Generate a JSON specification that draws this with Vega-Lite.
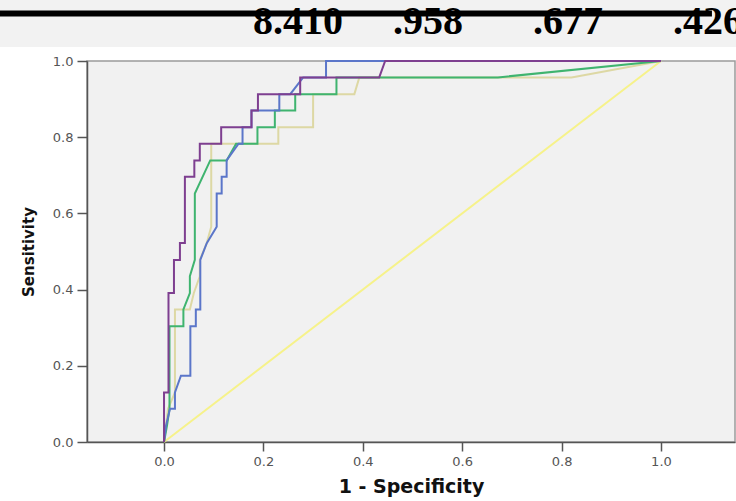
{
  "$schema": "https://vega.github.io/schema/vega-lite/v6.json",
  "width": 648,
  "height": 381,
  "autosize": {"type": "none"},
  "padding": {"left": 87, "top": 61, "right": 1, "bottom": 59},
  "background": "white",
  "title": {
    "text": "8.410\u00a0\u00a0\u00a0\u00a0\u00a0.958\u00a0\u00a0\u00a0\u00a0\u00a0\u00a0\u00a0.677\u00a0\u00a0\u00a0\u00a0\u00a0\u00a0\u00a0.426",
    "font": "Liberation Serif",
    "fontSize": 40,
    "fontWeight": "bold",
    "color": "#000000",
    "anchor": "start",
    "frame": "group",
    "baseline": "alphabetic",
    "offset": 0,
    "dx": 166,
    "dy": 74
  },
  "config": {
    "view": {"fill": "#f1f1f1", "stroke": "#9a9a9a", "strokeWidth": 1.5},
    "axis": {
      "grid": false,
      "labelFont": "DejaVu Sans",
      "labelFontSize": 13,
      "labelColor": "#555555",
      "tickColor": "#555555",
      "tickWidth": 1.5,
      "tickSize": 9,
      "domainColor": "#555555",
      "domainWidth": 1.5,
      "labelPadding": 4,
      "titleFont": "DejaVu Sans",
      "titleFontWeight": "bold",
      "titleColor": "#111111"
    }
  },
  "datasets": {
    "roc": [
      {"curve": "Ref", "i": 0, "fpr": 0, "tpr": 0},
      {"curve": "Ref", "i": 1, "fpr": 1, "tpr": 1},

      {"curve": "A", "i": 0, "fpr": 0, "tpr": 0},
      {"curve": "A", "i": 1, "fpr": 0.008, "tpr": 0.087},
      {"curve": "A", "i": 2, "fpr": 0.022, "tpr": 0.130},
      {"curve": "A", "i": 3, "fpr": 0.022, "tpr": 0.348},
      {"curve": "A", "i": 4, "fpr": 0.052, "tpr": 0.348},
      {"curve": "A", "i": 5, "fpr": 0.060, "tpr": 0.391},
      {"curve": "A", "i": 6, "fpr": 0.072, "tpr": 0.435},
      {"curve": "A", "i": 7, "fpr": 0.072, "tpr": 0.478},
      {"curve": "A", "i": 8, "fpr": 0.086, "tpr": 0.522},
      {"curve": "A", "i": 9, "fpr": 0.095, "tpr": 0.565},
      {"curve": "A", "i": 10, "fpr": 0.095, "tpr": 0.783},
      {"curve": "A", "i": 11, "fpr": 0.230, "tpr": 0.783},
      {"curve": "A", "i": 12, "fpr": 0.230, "tpr": 0.826},
      {"curve": "A", "i": 13, "fpr": 0.300, "tpr": 0.826},
      {"curve": "A", "i": 14, "fpr": 0.300, "tpr": 0.913},
      {"curve": "A", "i": 15, "fpr": 0.383, "tpr": 0.913},
      {"curve": "A", "i": 16, "fpr": 0.393, "tpr": 0.957},
      {"curve": "A", "i": 17, "fpr": 0.820, "tpr": 0.957},
      {"curve": "A", "i": 18, "fpr": 1, "tpr": 1},

      {"curve": "B", "i": 0, "fpr": 0, "tpr": 0},
      {"curve": "B", "i": 1, "fpr": 0.006, "tpr": 0.043},
      {"curve": "B", "i": 2, "fpr": 0.011, "tpr": 0.087},
      {"curve": "B", "i": 3, "fpr": 0.011, "tpr": 0.304},
      {"curve": "B", "i": 4, "fpr": 0.039, "tpr": 0.304},
      {"curve": "B", "i": 5, "fpr": 0.039, "tpr": 0.348},
      {"curve": "B", "i": 6, "fpr": 0.052, "tpr": 0.391},
      {"curve": "B", "i": 7, "fpr": 0.052, "tpr": 0.435},
      {"curve": "B", "i": 8, "fpr": 0.062, "tpr": 0.478},
      {"curve": "B", "i": 9, "fpr": 0.062, "tpr": 0.652},
      {"curve": "B", "i": 10, "fpr": 0.093, "tpr": 0.739},
      {"curve": "B", "i": 11, "fpr": 0.126, "tpr": 0.739},
      {"curve": "B", "i": 12, "fpr": 0.145, "tpr": 0.783},
      {"curve": "B", "i": 13, "fpr": 0.188, "tpr": 0.783},
      {"curve": "B", "i": 14, "fpr": 0.188, "tpr": 0.826},
      {"curve": "B", "i": 15, "fpr": 0.223, "tpr": 0.826},
      {"curve": "B", "i": 16, "fpr": 0.223, "tpr": 0.870},
      {"curve": "B", "i": 17, "fpr": 0.264, "tpr": 0.870},
      {"curve": "B", "i": 18, "fpr": 0.264, "tpr": 0.913},
      {"curve": "B", "i": 19, "fpr": 0.347, "tpr": 0.913},
      {"curve": "B", "i": 20, "fpr": 0.347, "tpr": 0.957},
      {"curve": "B", "i": 21, "fpr": 0.672, "tpr": 0.957},
      {"curve": "B", "i": 22, "fpr": 1, "tpr": 1},

      {"curve": "C", "i": 0, "fpr": 0, "tpr": 0},
      {"curve": "C", "i": 1, "fpr": 0.004, "tpr": 0.043},
      {"curve": "C", "i": 2, "fpr": 0.012, "tpr": 0.087},
      {"curve": "C", "i": 3, "fpr": 0.022, "tpr": 0.087},
      {"curve": "C", "i": 4, "fpr": 0.022, "tpr": 0.130},
      {"curve": "C", "i": 5, "fpr": 0.034, "tpr": 0.174},
      {"curve": "C", "i": 6, "fpr": 0.053, "tpr": 0.174},
      {"curve": "C", "i": 7, "fpr": 0.053, "tpr": 0.304},
      {"curve": "C", "i": 8, "fpr": 0.064, "tpr": 0.304},
      {"curve": "C", "i": 9, "fpr": 0.064, "tpr": 0.348},
      {"curve": "C", "i": 10, "fpr": 0.073, "tpr": 0.348},
      {"curve": "C", "i": 11, "fpr": 0.073, "tpr": 0.478},
      {"curve": "C", "i": 12, "fpr": 0.086, "tpr": 0.522},
      {"curve": "C", "i": 13, "fpr": 0.106, "tpr": 0.565},
      {"curve": "C", "i": 14, "fpr": 0.106, "tpr": 0.652},
      {"curve": "C", "i": 15, "fpr": 0.116, "tpr": 0.652},
      {"curve": "C", "i": 16, "fpr": 0.116, "tpr": 0.696},
      {"curve": "C", "i": 17, "fpr": 0.126, "tpr": 0.696},
      {"curve": "C", "i": 18, "fpr": 0.126, "tpr": 0.739},
      {"curve": "C", "i": 19, "fpr": 0.150, "tpr": 0.783},
      {"curve": "C", "i": 20, "fpr": 0.158, "tpr": 0.783},
      {"curve": "C", "i": 21, "fpr": 0.158, "tpr": 0.826},
      {"curve": "C", "i": 22, "fpr": 0.176, "tpr": 0.826},
      {"curve": "C", "i": 23, "fpr": 0.176, "tpr": 0.870},
      {"curve": "C", "i": 24, "fpr": 0.232, "tpr": 0.870},
      {"curve": "C", "i": 25, "fpr": 0.232, "tpr": 0.913},
      {"curve": "C", "i": 26, "fpr": 0.254, "tpr": 0.913},
      {"curve": "C", "i": 27, "fpr": 0.280, "tpr": 0.957},
      {"curve": "C", "i": 28, "fpr": 0.326, "tpr": 0.957},
      {"curve": "C", "i": 29, "fpr": 0.326, "tpr": 1},
      {"curve": "C", "i": 30, "fpr": 1, "tpr": 1},

      {"curve": "D", "i": 0, "fpr": 0, "tpr": 0},
      {"curve": "D", "i": 1, "fpr": 0, "tpr": 0.130},
      {"curve": "D", "i": 2, "fpr": 0.009, "tpr": 0.130},
      {"curve": "D", "i": 3, "fpr": 0.009, "tpr": 0.391},
      {"curve": "D", "i": 4, "fpr": 0.020, "tpr": 0.391},
      {"curve": "D", "i": 5, "fpr": 0.020, "tpr": 0.478},
      {"curve": "D", "i": 6, "fpr": 0.032, "tpr": 0.478},
      {"curve": "D", "i": 7, "fpr": 0.032, "tpr": 0.522},
      {"curve": "D", "i": 8, "fpr": 0.042, "tpr": 0.522},
      {"curve": "D", "i": 9, "fpr": 0.042, "tpr": 0.696},
      {"curve": "D", "i": 10, "fpr": 0.061, "tpr": 0.696},
      {"curve": "D", "i": 11, "fpr": 0.061, "tpr": 0.739},
      {"curve": "D", "i": 12, "fpr": 0.072, "tpr": 0.739},
      {"curve": "D", "i": 13, "fpr": 0.072, "tpr": 0.783},
      {"curve": "D", "i": 14, "fpr": 0.115, "tpr": 0.783},
      {"curve": "D", "i": 15, "fpr": 0.115, "tpr": 0.826},
      {"curve": "D", "i": 16, "fpr": 0.176, "tpr": 0.826},
      {"curve": "D", "i": 17, "fpr": 0.176, "tpr": 0.870},
      {"curve": "D", "i": 18, "fpr": 0.189, "tpr": 0.870},
      {"curve": "D", "i": 19, "fpr": 0.189, "tpr": 0.913},
      {"curve": "D", "i": 20, "fpr": 0.274, "tpr": 0.913},
      {"curve": "D", "i": 21, "fpr": 0.274, "tpr": 0.957},
      {"curve": "D", "i": 22, "fpr": 0.433, "tpr": 0.957},
      {"curve": "D", "i": 23, "fpr": 0.445, "tpr": 1},
      {"curve": "D", "i": 24, "fpr": 1, "tpr": 1}
    ]
  },
  "layer": [
    {
      "data": {"values": [{}]},
      "mark": {"type": "rect", "color": "#f2f2f2"},
      "encoding": {
        "x": {"datum": -0.4, "type": "quantitative", "scale": {"domain": [-0.155, 1.149], "nice": false, "zero": false}},
        "x2": {"datum": 1.3},
        "y": {"datum": 1.0367, "type": "quantitative", "scale": {"domain": [0, 1], "nice": false}},
        "y2": {"datum": 1.1601}
      }
    },
    {
      "data": {"values": [{}]},
      "mark": {"type": "rule", "color": "#000000", "strokeWidth": 6},
      "encoding": {
        "x": {"datum": -0.4, "type": "quantitative"},
        "x2": {"datum": 1.1026},
        "y": {"datum": 1.1247, "type": "quantitative"}
      }
    },
    {
      "data": {"name": "roc"},
      "mark": {"type": "line", "strokeWidth": 2},
      "encoding": {
        "x": {
          "field": "fpr",
          "type": "quantitative",
          "scale": {"domain": [-0.155, 1.149], "nice": false, "zero": false},
          "axis": {
            "title": "1 - Specificity",
            "titleFontSize": 19,
            "titlePadding": 9,
            "values": [0, 0.2, 0.4, 0.6, 0.8, 1.0],
            "format": ".1f",
            "labelFlush": false,
            "labelOverlap": false
          }
        },
        "y": {
          "field": "tpr",
          "type": "quantitative",
          "scale": {"domain": [0, 1], "nice": false},
          "axis": {
            "title": "Sensitivity",
            "titleFontSize": 15,
            "titlePadding": 16,
            "values": [0, 0.2, 0.4, 0.6, 0.8, 1.0],
            "format": ".1f",
            "tickSize": 10,
            "labelFlush": false,
            "labelOverlap": false
          }
        },
        "color": {
          "field": "curve",
          "type": "nominal",
          "scale": {
            "domain": ["Ref", "A", "B", "C", "D"],
            "range": ["#f6f28a", "#ddd8a4", "#3fb46f", "#5b76c9", "#7e3f90"]
          },
          "legend": null
        },
        "order": {"field": "i", "type": "quantitative"}
      }
    }
  ]
}
